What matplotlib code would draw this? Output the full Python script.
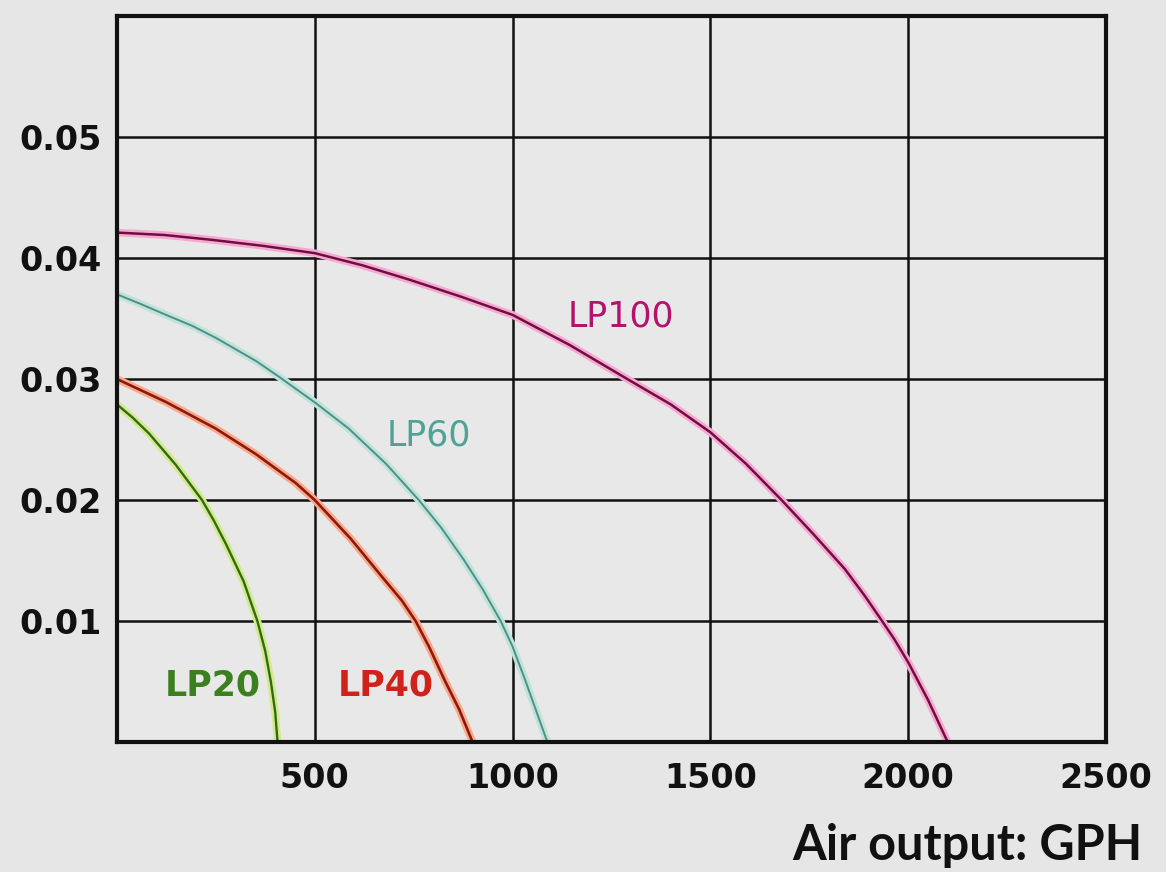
import matplotlib
matplotlib.use("Agg")
import matplotlib.pyplot as plt

# curves (GPH, pressure)
lp100_x = [0, 120, 240, 370, 500, 620, 740, 870, 1000, 1145, 1290, 1400, 1500,
           1590, 1680, 1760, 1840, 1890, 1930, 1965, 2000, 2050, 2100]
lp100_y = [0.0421, 0.0419, 0.0415, 0.0410, 0.0404, 0.0394, 0.0382, 0.0368, 0.0353, 0.0328, 0.0300, 0.0279, 0.0256,
           0.0230, 0.0200, 0.0172, 0.0143, 0.0121, 0.0102, 0.0085, 0.0066, 0.0035, 0.0]

lp60_x = [0, 60, 124, 190, 250, 351, 409, 503, 586, 680, 763, 820, 876, 925, 970, 1000, 1030, 1053, 1088]
lp60_y = [0.0370, 0.0362, 0.0353, 0.0344, 0.0334, 0.0315, 0.0302, 0.0280, 0.0259, 0.0230, 0.0200, 0.0177,
          0.0151, 0.0126, 0.0100, 0.0079, 0.0053, 0.0032, 0.0]

lp40_x = [0, 124, 250, 351, 452, 500, 591, 674, 720, 755, 790, 830, 865, 899]
lp40_y = [0.0300, 0.0281, 0.0259, 0.0238, 0.0214, 0.0200, 0.0168, 0.0135, 0.0117, 0.0100, 0.0078, 0.0050, 0.0027, 0.0]

lp20_x = [0, 40, 81, 149, 215, 245, 275, 320, 355, 375, 389, 400, 406]
lp20_y = [0.0279, 0.0268, 0.0255, 0.0229, 0.0200, 0.0183, 0.0164, 0.0133, 0.0100, 0.0075, 0.0050, 0.0025, 0.0]

x_ticks = [500, 1000, 1500, 2000, 2500]
y_ticks = [0.01, 0.02, 0.03, 0.04, 0.05]
y_tick_labels = ["0.01", "0.02", "0.03", "0.04", "0.05"]

bg = "#e6e6e6"
fig = plt.figure(figsize=(11.66, 8.72), dpi=100, facecolor=bg)
ax = fig.add_axes([0.1003, 0.149, 0.8482, 0.8327], facecolor="#e8e8e8")

# halo + dark core, as in the printed chart
curves = [
    (lp100_x, lp100_y, "#f6a8d2", "#6e0f40", 1.8),
    (lp60_x, lp60_y, "#bfe3da", "#4f8f86", 1.4),
    (lp40_x, lp40_y, "#f9a98a", "#8a1a10", 1.9),
    (lp20_x, lp20_y, "#d4ea8a", "#2f6a1a", 1.7),
]
for xs, ys, halo, core, lw in curves:
    ax.plot(xs, ys, color=halo, lw=5.5, solid_capstyle="butt", solid_joinstyle="round", zorder=3)
    ax.plot(xs, ys, color=core, lw=lw, solid_capstyle="butt", solid_joinstyle="round", zorder=4)

ax.set_xlim(0, 2500)
ax.set_ylim(0, 0.06)
ax.set_xticks(x_ticks)
ax.set_yticks(y_ticks)
ax.set_yticklabels(y_tick_labels)
ax.tick_params(length=0, labelsize=24, pad=11)
ax.tick_params(axis="x", pad=14)
for lab in ax.get_xticklabels() + ax.get_yticklabels():
    lab.set_fontweight("bold")
    lab.set_color("#111111")

ax.grid(True, color="#111111", lw=1.8, zorder=2)
ax.set_axisbelow(True)
for sp in ax.spines.values():
    sp.set_linewidth(3)
    sp.set_color("#111111")
    sp.set_zorder(5)

ax.text(1273, 0.0352, "LP100", color="#b5126e", fontsize=25, ha="center", va="center", zorder=6)
ax.text(788, 0.0253, "LP60", color="#4fa396", fontsize=25, ha="center", va="center", zorder=6)
ax.text(242, 0.0047, "LP20", color="#3b7f1e", fontsize=25, fontweight="bold", ha="center", va="center", zorder=6)
ax.text(679, 0.0047, "LP40", color="#d0221a", fontsize=25, fontweight="bold", ha="center", va="center", zorder=6)

fig.text(0.980, 0.0138, "Air output: GPH", fontsize=35, family="Lato", fontweight="bold",
         ha="right", va="baseline", color="#111111")

fig.savefig("out.png", dpi=100, facecolor=bg)
